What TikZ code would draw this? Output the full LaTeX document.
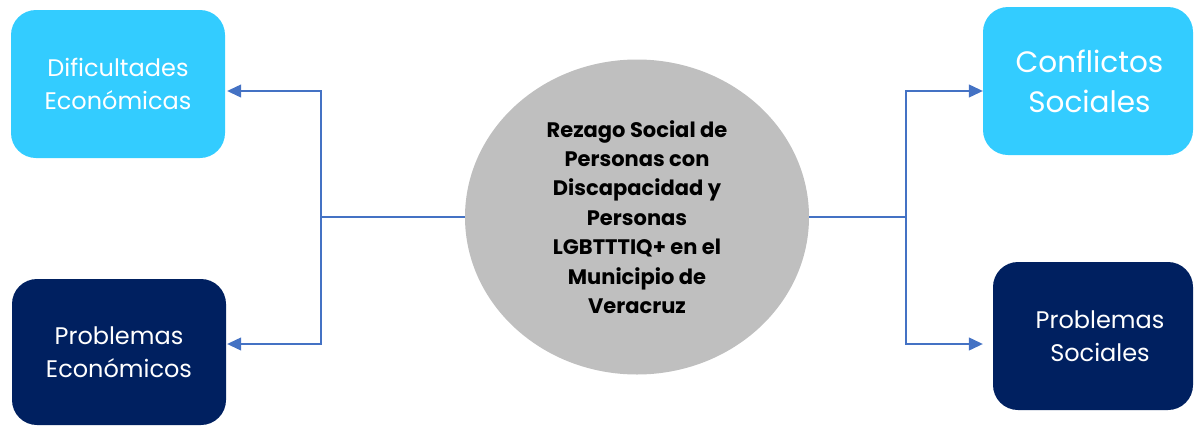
\documentclass[tikz,border=0pt]{standalone}
\usepackage{fontspec}
\usetikzlibrary{shapes.geometric,arrows.meta}
\newfontfamily\mont{Poppins}
\definecolor{cyanbox}{HTML}{33CCFF}
\definecolor{navybox}{HTML}{002060}
\definecolor{ellgray}{HTML}{BFBFBF}
\definecolor{linkblue}{HTML}{4472C4}
\tikzset{
  box/.style={rectangle, rounded corners=25pt, inner sep=0pt, align=center, text=white, font=\mont\fontsize{24}{33}\selectfont},
  lightbox/.style={box, fill=cyanbox},
  darkbox/.style={box, fill=navybox},
  link/.style={draw=linkblue, line width=1.2pt, -{Triangle[length=14pt,width=13pt]}},
  plain/.style={draw=linkblue, line width=1.2pt}
}
\begin{document}
\begin{tikzpicture}[x=1pt,y=-1pt]
\useasboundingbox (0,0) rectangle (1194,426);
\node[lightbox, minimum width=214pt, minimum height=148pt] (b1) at (118,84) {\raisebox{-2pt}{Dificultades}\\\raisebox{-2pt}{Económicas}};
\node[darkbox, minimum width=214pt, minimum height=146pt] (b2) at (119,352) {Problemas\\Económicos};
\node[lightbox, minimum width=210pt, minimum height=148pt, font=\mont\fontsize{29.5}{40}\selectfont] (b3) at (1088,81) {\hspace*{3pt}Conflictos\\\hspace*{3pt}Sociales};
\node[darkbox, minimum width=200pt, minimum height=148pt] (b4) at (1093,336) {\hspace*{14pt}Problemas\\\hspace*{14pt}Sociales};
\node[ellipse, fill=ellgray, minimum width=344pt, minimum height=315pt, inner sep=0pt, align=center,
      font=\mont\bfseries\fontsize{21}{29.4}\selectfont] (c) at (637,217)
  {Rezago Social de\\Personas con\\Discapacidad y\\Personas\\LGBTTTIQ+ en el\\Municipio de\\Veracruz};
\coordinate (jl) at (321,217);
\coordinate (jr) at (906,217);
\draw[plain] (c.west) -- (jl);
\draw[plain] (c.east) -- (jr);
\draw[link] (jl) |- ([yshift=-7pt,xshift=2pt]b1.east);
\draw[link] (jl) |- ([yshift=8pt,xshift=1pt]b2.east);
\draw[link] (jr) |- ([yshift=-10pt]b3.west);
\draw[link, shorten >=10pt] (jr) |- ([yshift=-8pt]b4.west);
\end{tikzpicture}
\end{document}
